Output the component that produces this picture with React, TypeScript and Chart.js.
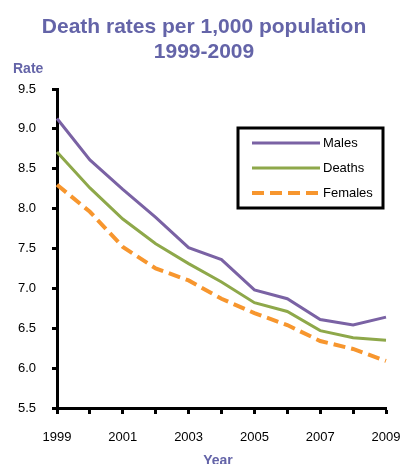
import React, { useEffect, useRef } from "react";
import { Chart, registerables } from "chart.js";

Chart.register(...registerables);

const years = ["1999", "2000", "2001", "2002", "2003", "2004", "2005", "2006", "2007", "2008", "2009"];
const males = [9.13, 8.61, 8.24, 7.89, 7.51, 7.36, 6.98, 6.87, 6.61, 6.54, 6.64];
const deaths = [8.71, 8.26, 7.87, 7.56, 7.31, 7.08, 6.82, 6.71, 6.47, 6.38, 6.35];
const females = [8.3, 7.96, 7.52, 7.25, 7.1, 6.87, 6.69, 6.54, 6.34, 6.24, 6.09];
const titleLines = ["Death rates per 1,000 population", "1999-2009"];
const yLabel = "Rate";
const xLabel = "Year";

const TITLE_COLOR = "#6464a8";
const FONT = "Arial, 'Liberation Sans', sans-serif";

const decorPlugin = {
  id: "decor",
  afterDraw(chart: any) {
    const ctx = chart.ctx;
    ctx.save();
    ctx.fillStyle = TITLE_COLOR;
    ctx.font = `bold 21px ${FONT}`;
    ctx.textAlign = "center";
    ctx.textBaseline = "alphabetic";
    ctx.fillText(titleLines[0], 204, 33);
    ctx.fillText(titleLines[1], 204, 58);
    ctx.font = `bold 14px ${FONT}`;
    ctx.textAlign = "left";
    ctx.fillText(yLabel, 13, 73);
    ctx.textAlign = "center";
    ctx.textBaseline = "top";
    ctx.fillText(xLabel, 218, 454);

    // legend box
    const bx = 238, by = 128, bw = 145, bh = 80;
    ctx.fillStyle = "#fff";
    ctx.fillRect(bx, by, bw, bh);
    ctx.strokeStyle = "#000";
    ctx.lineWidth = 3;
    ctx.strokeRect(bx, by, bw, bh);
    const rows = [143, 168, 193];
    ctx.font = `13px ${FONT}`;
    ctx.textAlign = "left";
    ctx.textBaseline = "middle";
    chart.data.datasets.forEach((ds: any, i: number) => {
      ctx.save();
      ctx.strokeStyle = ds.borderColor;
      ctx.lineWidth = ds.borderWidth;
      ctx.setLineDash(ds.borderDash || []);
      ctx.beginPath();
      ctx.moveTo(252, rows[i]);
      ctx.lineTo(320, rows[i]);
      ctx.stroke();
      ctx.restore();
      ctx.fillStyle = "#000";
      ctx.fillText(ds.label, 323, rows[i]);
    });
    ctx.restore();
  },
};

export default function App() {
  const ref = useRef<HTMLCanvasElement | null>(null);
  useEffect(() => {
    if (!ref.current) return;
    const chart = new Chart(ref.current, {
      type: "line",
      data: {
        labels: years,
        datasets: [
          { label: "Males", data: males, borderColor: "#7a62a4", borderWidth: 3, pointRadius: 0, tension: 0, fill: false },
          { label: "Deaths", data: deaths, borderColor: "#8ea84a", borderWidth: 3, pointRadius: 0, tension: 0, fill: false },
          { label: "Females", data: females, borderColor: "#f7962e", borderWidth: 4, borderDash: [12, 6], pointRadius: 0, tension: 0, fill: false },
        ],
      },
      options: {
        responsive: false,
        animation: false,
        devicePixelRatio: 1,
        layout: { padding: { top: 89, right: 16, bottom: 0, left: 0 } },
        plugins: { legend: { display: false }, title: { display: false }, tooltip: { enabled: false } },
        scales: {
          x: {
            type: "category",
            offset: false,
            afterFit: (s: any) => { s.height = 56; s.paddingLeft = 0; s.paddingRight = 0; },
            border: { display: true, width: 3, color: "#000" },
            grid: { display: true, drawOnChartArea: false, drawTicks: true, tickLength: 6, tickWidth: 3, tickColor: "#000", color: "#000" },
            ticks: {
              autoSkip: false,
              maxRotation: 0,
              padding: 16,
              color: "#000",
              font: { family: FONT, size: 13 },
              callback: (_v: any, i: number) => (i % 2 === 0 ? years[i] : ""),
            },
          },
          y: {
            min: 5.5,
            max: 9.5,
            afterFit: (s: any) => { s.width = 57; s.paddingTop = 0; s.paddingBottom = 0; },
            border: { display: true, width: 3, color: "#000" },
            grid: { display: true, drawOnChartArea: false, drawTicks: true, tickLength: 5, tickWidth: 3, tickColor: "#000", color: "#000" },
            ticks: {
              stepSize: 0.5,
              padding: 16,
              color: "#000",
              font: { family: FONT, size: 13 },
              callback: (v: any) => Number(v).toFixed(1),
            },
          },
        },
      },
      plugins: [decorPlugin],
    } as any);
    return () => chart.destroy();
  }, []);
  return (
    <div style={{ position: "fixed", left: 0, top: 0, width: 402, height: 464, background: "#fff" }}>
      <canvas ref={ref} width={402} height={464} style={{ display: "block" }} />
    </div>
  );
}
